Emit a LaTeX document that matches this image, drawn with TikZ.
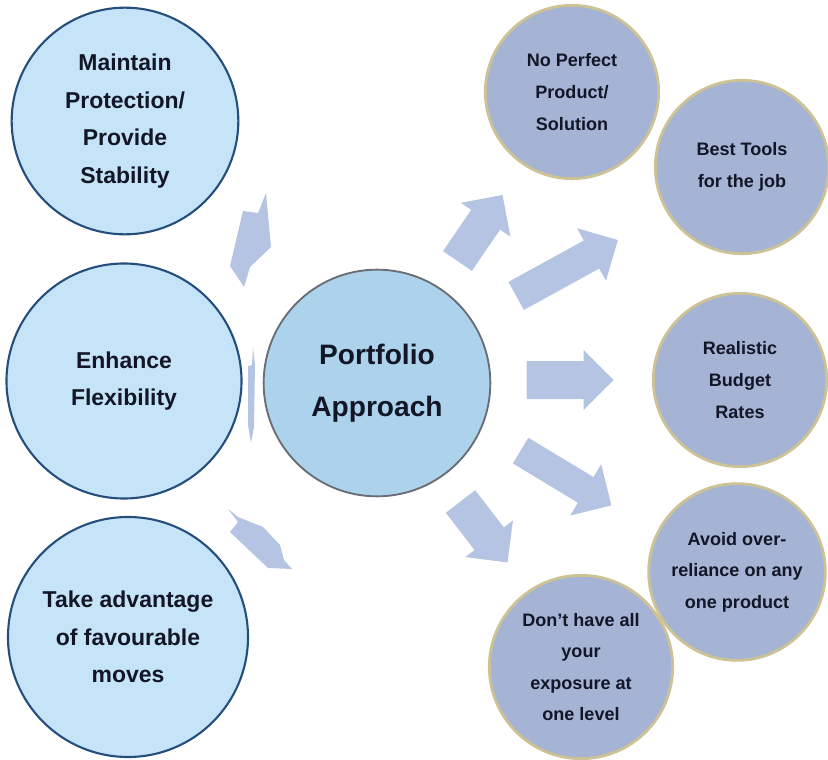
\documentclass[tikz,border=0pt]{standalone}
\usepackage{fontspec}
\setmainfont{Liberation Sans}
\usepackage{xcolor}
\usepackage{tikz}
\definecolor{goalblue}{RGB}{198, 228, 247}
\definecolor{goalline}{RGB}{38, 78, 125}
\definecolor{hubblue}{RGB}{172, 210, 236}
\definecolor{hubline}{RGB}{105, 110, 118}
\definecolor{reasongray}{RGB}{165, 180, 212}
\definecolor{reasonline}{RGB}{204, 194, 150}
\definecolor{arrowblue}{RGB}{180, 196, 226}
\definecolor{inkdark}{RGB}{18, 22, 38}

\begin{document}
\begin{tikzpicture}[
        x=0.03cm, y=-0.03cm,
        goal/.style={circle, draw=goalline, fill=goalblue, line width=1.8pt, inner sep=0pt, align=center, text=inkdark, font=\fontsize{19.6}{32}\selectfont\bfseries},
        hub/.style={circle, draw=hubline, fill=hubblue, line width=1.6pt, inner sep=0pt, align=center, text=inkdark, font=\fontsize{24}{44}\selectfont\bfseries},
        reason/.style={circle, draw=reasonline, fill=reasongray, line width=2.4pt, inner sep=0pt, align=center, text=inkdark, font=\fontsize{15.4}{27}\selectfont\bfseries},
        blockfill/.style={fill=arrowblue, draw=none},
        pics/fatarrow/.style 2 args={code={
            \fill[blockfill] (-#1/2,-#2/2) -- (#1/2-30,-#2/2) -- (#1/2-30,-30) -- (#1/2,0)
                -- (#1/2-30,30) -- (#1/2-30,#2/2) -- (-#1/2,#2/2) -- cycle;
        }}
    ]
        \useasboundingbox (0,0) rectangle (828,760);

        % Left column
        \node[goal, minimum size=6.8cm] (stab) at (125,121) {Maintain\\Protection/\\Provide\\Stability};
        \node[goal, minimum size=7.05cm] (flex) at (124,381) {Enhance\\Flexibility};
        \node[goal, minimum size=7.2cm] (moves) at (128,637) {Take advantage\\of favourable\\moves};

        % Hub
        \node[hub, minimum size=6.8cm] (port) at (377,383) {Portfolio\\Approach};

        % Right side
        \node[reason, minimum size=5.2cm] (perfect) at (572,92) {No Perfect\\Product/\\Solution};
        \node[reason, minimum size=5.2cm] (tools) at (742,167) {Best Tools\\for the job};
        \node[reason, minimum size=5.2cm] (budget) at (740,380) {Realistic\\Budget\\Rates};
        \node[reason, minimum size=5.3cm] (reliance) at (737,572) {Avoid over-\\reliance on any\\one product};
        \node[reason, minimum size=5.5cm] (level) at (581,667) {Don't have all\\your\\exposure at\\one level};

        % Arrows into the hub
        \fill[blockfill] (228,509) -- (238,517) -- (263,527) -- (280,545) -- (284,560)
            -- (292,569) -- (268,568) -- (230,532) -- (238,522) -- cycle;
        \fill[blockfill] (266,193) -- (271,247) -- (250,267) -- (244,287) -- (230,266)
            -- (243,211) -- (258,213) -- cycle;
        \fill[blockfill] (253,347) -- (255,365) -- (254,427) -- (251,443) -- (248,425)
            -- (248,366) -- (252,365) -- cycle;

        % Arrows out of the hub
        \pic[rotate=55.7] at (480,228) {fatarrow={80}{35}};
        \pic[rotate=28.8] at (567,268) {fatarrow={116}{32}};
        \pic at (570,380) {fatarrow={87}{38}};
        \pic[rotate=-31.1] at (566,478) {fatarrow={106}{30}};
        \pic[rotate=-52.4] at (484,532) {fatarrow={77}{37}};
    \end{tikzpicture}
\end{document}
